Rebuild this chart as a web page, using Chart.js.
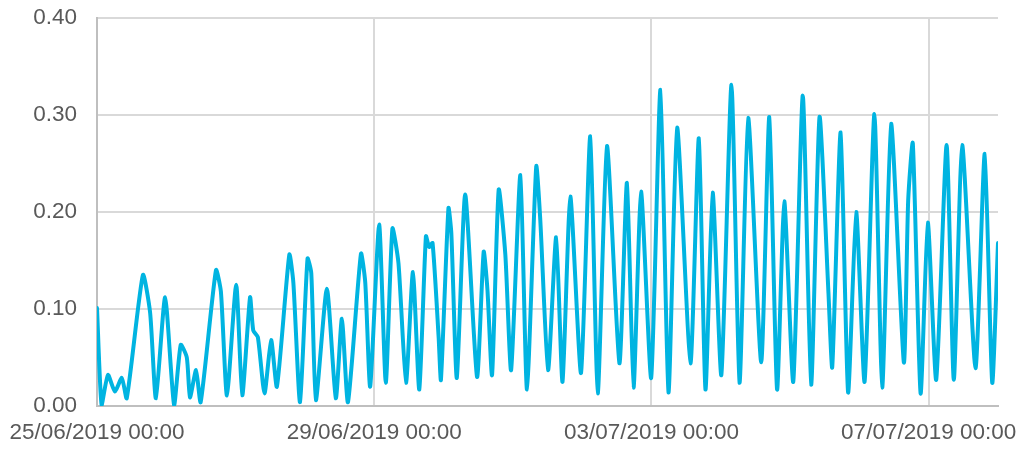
<!DOCTYPE html>
<html>
<head>
<meta charset="utf-8">
<script src="https://cdn.jsdelivr.net/npm/chart.js@4.4.1/dist/chart.umd.min.js"></script>
<style>
  html, body { margin: 0; padding: 0; background: #ffffff; }
</style>
</head>
<body>
<canvas id="chart" width="1020" height="450"></canvas>
<script>
// hours since 25/06/2019 00:00 (turning points of the series)
const hours = [
  0, 1.6, 3.8, 6.2, 8.6, 10.3, 15.9, 18.4, 20.4, 23.6,
  26.7, 29.0, 31.1, 32.2, 34.3, 35.9, 41.2, 42.9, 45.0, 48.2,
  50.3, 53.0, 54.1, 55.7, 58.0, 60.3, 62.3, 66.6, 68.0, 70.3,
  72.9, 74.2, 75.8, 79.6, 82.7, 84.8, 86.9, 91.4, 92.9, 94.6,
  97.7, 100.0, 102.3, 104.4, 107.0, 109.4, 111.6, 113.9, 115.0, 116.2,
  118.3, 119.1, 121.7, 122.7, 124.6, 127.5, 131.6, 133.9, 135.2, 136.8,
  139.1, 141.4, 143.4, 146.6, 148.9, 152.1, 153.5, 156.2, 159.0, 161.2,
  163.9, 167.6, 170.8, 173.4, 176.6, 180.9, 183.5, 185.8, 188.4, 191.9,
  195.1, 197.9, 200.9, 205.5, 208.4, 210.7, 213.2, 216.2, 219.7, 222.5,
  225.5, 230.0, 232.8, 235.5, 238.0, 241.1, 244.4, 247.3, 250.2, 253.3,
  254.6, 257.5, 260.1, 262.9, 265.8, 269.2, 271.9, 275.0, 279.4, 280.9,
  282.5, 285.2, 287.7, 290.6, 294.2, 296.7, 299.6, 304.2, 307.4, 310.0,
  312.0
];
const values = [
  0.101, 0.001, 0.032, 0.015, 0.029, 0.008, 0.135, 0.096, 0.008, 0.112,
  0.001, 0.063, 0.050, 0.009, 0.037, 0.004, 0.140, 0.118, 0.011, 0.125,
  0.011, 0.112, 0.078, 0.071, 0.013, 0.068, 0.020, 0.156, 0.127, 0.004,
  0.152, 0.137, 0.006, 0.121, 0.008, 0.090, 0.004, 0.157, 0.127, 0.020,
  0.187, 0.024, 0.183, 0.147, 0.024, 0.138, 0.017, 0.175, 0.164, 0.168,
  0.071, 0.027, 0.204, 0.178, 0.029, 0.218, 0.030, 0.159, 0.120, 0.032,
  0.223, 0.156, 0.037, 0.238, 0.017, 0.247, 0.192, 0.037, 0.174, 0.025,
  0.216, 0.034, 0.278, 0.013, 0.268, 0.044, 0.230, 0.019, 0.221, 0.029,
  0.326, 0.014, 0.287, 0.044, 0.276, 0.017, 0.220, 0.032, 0.331, 0.024,
  0.297, 0.045, 0.298, 0.017, 0.211, 0.025, 0.320, 0.022, 0.298, 0.116,
  0.040, 0.282, 0.014, 0.200, 0.025, 0.301, 0.019, 0.291, 0.045, 0.212,
  0.271, 0.013, 0.189, 0.027, 0.269, 0.027, 0.269, 0.039, 0.260, 0.024,
  0.168
];

const tickHours = [0, 96, 192, 288];
const tickLabels = ['25/06/2019 00:00', '29/06/2019 00:00', '03/07/2019 00:00', '07/07/2019 00:00'];

const gridColor = '#d9d9d9';
const axisColor = '#bfbfbf';
const textColor = '#595959';
const font = { family: "'Liberation Sans', Arial, sans-serif", size: 22.5 };

// drop the extra room Chart.js reserves for the end labels
const noEdgePadding = (s) => {
  s.paddingTop = 0; s.paddingBottom = 0; s.paddingLeft = 0; s.paddingRight = 0;
};

new Chart(document.getElementById('chart'), {
  type: 'line',
  data: {
    datasets: [{
      data: hours.map((h, i) => ({ x: h, y: values[i] })),
      borderColor: '#00b4e1',
      borderWidth: 4,
      borderJoinStyle: 'round',
      borderCapStyle: 'round',
      pointRadius: 0,
      fill: false,
      tension: 0.2
    }]
  },
  options: {
    responsive: false,
    animation: false,
    layout: { padding: { top: 18, right: 22, left: 0, bottom: 0 } },
    plugins: { legend: { display: false }, tooltip: { enabled: false } },
    scales: {
      x: {
        type: 'linear',
        min: 0,
        max: 312,
        afterBuildTicks: (s) => { s.ticks = tickHours.map(v => ({ value: v })); },
        afterFit: (s) => { s.height = 44; noEdgePadding(s); },
        ticks: {
          autoSkip: false,
          maxRotation: 0,
          padding: 13,
          color: textColor,
          font: font,
          callback: (v) => tickLabels[tickHours.indexOf(v)]
        },
        grid: { color: gridColor, lineWidth: 2, drawTicks: false },
        border: { color: axisColor, width: 2 }
      },
      y: {
        min: 0,
        max: 0.4,
        afterFit: (s) => { s.width = 97; noEdgePadding(s); },
        ticks: {
          stepSize: 0.1,
          padding: 20,
          color: textColor,
          font: font,
          callback: (v) => v.toFixed(2)
        },
        grid: { color: gridColor, lineWidth: 2, drawTicks: false },
        border: { color: axisColor, width: 2 }
      }
    }
  }
});
</script>
</body>
</html>
